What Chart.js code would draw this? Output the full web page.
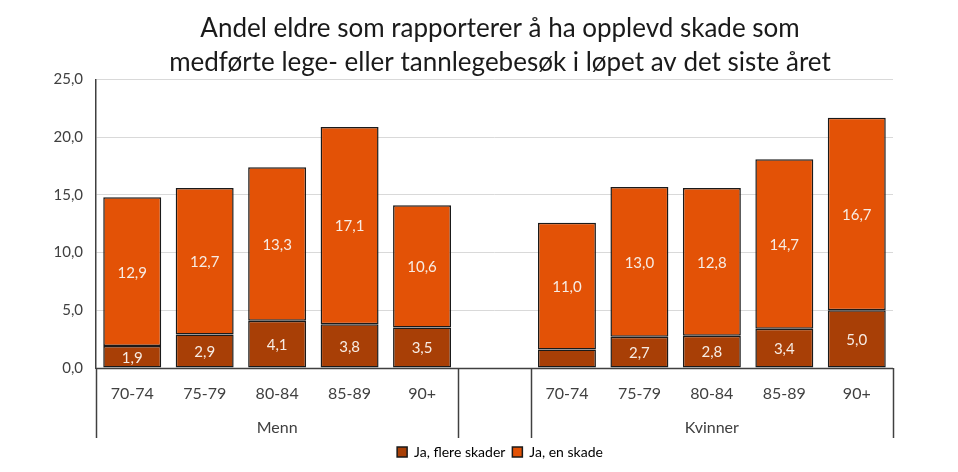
<!DOCTYPE html>
<html lang="no">
<head>
<meta charset="utf-8">
<script src="https://cdn.jsdelivr.net/npm/chart.js@4.4.1/dist/chart.umd.min.js"></script>
<style>
  html, body { margin: 0; padding: 0; background: #ffffff; }
  #wrap { width: 958px; height: 472px; position: relative; }
</style>
</head>
<body>
<div id="wrap"><canvas id="skadeChart"></canvas></div>
<script>
// --- data (lest av bildet) ---
const kategorier = ['70-74', '75-79', '80-84', '85-89', '90+', '', '70-74', '75-79', '80-84', '85-89', '90+'];
const grupper = ['Menn', '', 'Kvinner'];
const gruppeStorrelse = [5, 1, 5];
const flereSkader = [1.9, 2.9, 4.1, 3.8, 3.5, null, 1.6, 2.7, 2.8, 3.4, 5.0];
const enSkade = [12.9, 12.7, 13.3, 17.1, 10.6, null, 11.0, 13.0, 12.8, 14.7, 16.7];
const skjulteEtiketter = ['0-6']; // datasett-indeks - punkt-indeks uten etikett
const yTicks = [0, 5, 10, 15, 20, 25];

const FONT = 'Lato, "Open Sans", "Liberation Sans", sans-serif';
const TEKSTFARGE = '#404040';

function formatTall(v) {
    return v.toFixed(1).replace('.', ',');
}

// verdietiketter midt i hvert segment
const verdiEtiketter = {
    id: 'verdiEtiketter',
    afterDatasetsDraw(chart) {
        const ctx = chart.ctx;
        ctx.save();
        ctx.font = '15px ' + FONT;
        ctx.fillStyle = '#f7ece4';
        ctx.textAlign = 'center';
        ctx.textBaseline = 'middle';
        chart.data.datasets.forEach((ds, di) => {
            const meta = chart.getDatasetMeta(di);
            meta.data.forEach((bar, i) => {
                const v = ds.data[i];
                if (v === null || skjulteEtiketter.includes(di + '-' + i)) return;
                const midt = (bar.y + bar.base) / 2;
                ctx.fillText(formatTall(v), bar.x, midt + 1);
            });
        });
        ctx.restore();
    }
};

// gruppeakse (Menn / Kvinner) med skillelinjer
const gruppeAkse = {
    id: 'gruppeAkse',
    afterDraw(chart) {
        const x = chart.scales.x;
        const ctx = chart.ctx;
        const slot = x.width / kategorier.length;
        const topp = x.top;
        const bunn = x.top + 70;
        ctx.save();
        ctx.strokeStyle = '#404040';
        ctx.lineWidth = 1.5;
        ctx.font = '16px ' + FONT;
        ctx.fillStyle = TEKSTFARGE;
        ctx.textAlign = 'center';
        ctx.textBaseline = 'middle';

        let start = 0;
        const grenser = [0];
        grupper.forEach((navn, g) => {
            const slutt = start + gruppeStorrelse[g];
            grenser.push(slutt);
            if (navn) {
                const midtX = x.left + (start + slutt) / 2 * slot;
                ctx.fillText(navn, midtX, topp + 60);
            }
            start = slutt;
        });
        grenser.forEach(b => {
            const px = Math.round(x.left + b * slot) + 0.5;
            ctx.beginPath();
            ctx.moveTo(px, topp);
            ctx.lineTo(px, bunn);
            ctx.stroke();
        });
        ctx.beginPath();
        ctx.moveTo(x.left, Math.round(topp) + 0.5);
        ctx.lineTo(x.right, Math.round(topp) + 0.5);
        ctx.stroke();
        ctx.restore();
    }
};

new Chart(document.getElementById('skadeChart'), {
    type: 'bar',
    data: {
        labels: kategorier,
        datasets: [
            {
                label: 'Ja, flere skader',
                data: flereSkader,
                backgroundColor: '#A83F06',
                borderColor: '#1a1a1a',
                borderWidth: 1.5,
                borderSkipped: false
            },
            {
                label: 'Ja, en skade',
                data: enSkade,
                backgroundColor: '#E35206',
                borderColor: '#1a1a1a',
                borderWidth: 1.5,
                borderSkipped: false
            }
        ]
    },
    options: {
        responsive: true,
        maintainAspectRatio: false,
        animation: false,
        datasets: { bar: { barPercentage: 0.8, categoryPercentage: 1.0 } },
        layout: { padding: { left: 42, right: 0, top: 0, bottom: 3 } },
        plugins: {
            title: {
                display: true,
                text: ['Andel eldre som rapporterer å ha opplevd skade som',
                       'medførte lege- eller tannlegebesøk i løpet av det siste året'],
                color: '#1a1a1a',
                font: { family: FONT, size: 26, weight: 'normal', lineHeight: 1.3 },
                padding: { top: 12, bottom: 0 }
            },
            legend: {
                position: 'bottom',
                labels: {
                    color: TEKSTFARGE,
                    font: { family: FONT, size: 14 },
                    boxWidth: 10,
                    boxHeight: 10,
                    padding: 7,
                    generateLabels(chart) {
                        return chart.data.datasets.map((ds, i) => ({
                            text: ds.label,
                            fillStyle: ds.backgroundColor,
                            strokeStyle: '#1a1a1a',
                            lineWidth: 1.5,
                            datasetIndex: i
                        }));
                    }
                }
            },
            tooltip: { enabled: false }
        },
        scales: {
            x: {
                stacked: true,
                grid: { display: false, drawTicks: false },
                border: { display: false },
                ticks: {
                    color: TEKSTFARGE,
                    font: { family: FONT, size: 16 },
                    padding: 16,
                    maxRotation: 0,
                    autoSkip: false
                },
                afterFit(scale) { scale.height = 70; }
            },
            y: {
                stacked: true,
                min: 0,
                max: 25,
                afterBuildTicks(scale) { scale.ticks = yTicks.map(v => ({ value: v })); },
                grid: { color: '#d9d9d9', lineWidth: 1, drawTicks: false },
                border: { display: true, color: '#404040', width: 1.5 },
                ticks: {
                    color: TEKSTFARGE,
                    font: { family: FONT, size: 15 },
                    padding: 13,
                    callback: v => formatTall(v)
                },
                afterFit(scale) { scale.width = 54; }
            },
            // tom akse til høyre, bare for å holde plass
            hoyreTom: {
                type: 'linear',
                position: 'right',
                grid: { display: false, drawTicks: false },
                border: { display: false },
                ticks: { display: false },
                afterFit(scale) { scale.width = 65; }
            }
        }
    },
    plugins: [verdiEtiketter, gruppeAkse]
});
</script>
</body>
</html>
